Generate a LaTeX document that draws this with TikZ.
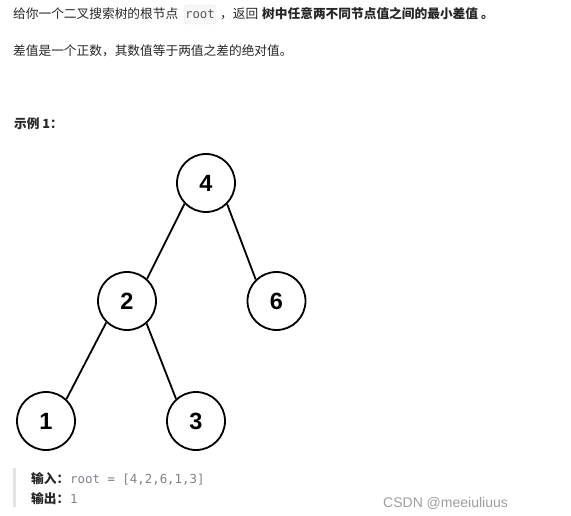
\documentclass[tikz,border=0pt]{standalone}
\usepackage{fontspec}
\setmainfont{Noto Sans CJK SC}
\newfontfamily\arialf{Liberation Sans}
\setmonofont{DejaVu Sans Mono}
\definecolor{textc}{HTML}{262626}
\definecolor{codec}{HTML}{7B8190}
\definecolor{codebg}{HTML}{F7F7F7}
\definecolor{codebd}{HTML}{E6E6E6}
\definecolor{barc}{HTML}{E3E3E3}
\definecolor{wmc}{HTML}{9E9E9E}
\begin{document}
\begin{tikzpicture}[x=1pt,y=-1pt,
  tn/.style={circle,draw=black,line width=1.8pt,minimum size=58pt,inner sep=0pt,
    font=\arialf\fontsize{23.5}{24}\selectfont\bfseries},
  edge/.style={line width=1.8pt},
  txt/.style={anchor=base west,inner sep=0pt,text=textc,font=\fontsize{12.7}{15}\selectfont},
  btxt/.style={txt,font=\fontsize{12.7}{15}\selectfont\bfseries},
  code/.style={anchor=base west,inner sep=0pt,text=codec,font=\ttfamily\fontsize{12.4}{15}\selectfont}
]
\useasboundingbox (0,0) rectangle (571,516);
% first line
\node[txt] (l1a) at (13,19) {给你一个二叉搜索树的根节点};
\draw[draw=codebd,fill=codebg,rounded corners=3pt] (184,5) rectangle (216,24);
\node[code,anchor=base,text=black!65] (rootc) at (200,19) {root};
\node[txt] (l1b) at (220,19) {，返回};
\node[btxt] (l1c) at (262,19) {树中任意两不同节点值之间的最小差值};
\node[btxt] (l1d) at (481,19) {。};
% second line
\node[txt] (l2) at (13,56) {差值是一个正数，其数值等于两值之差的绝对值。};
% example title
\node[btxt] (ex) at (14,129) {示例 1：};
% tree
\node[tn] (n4) at (206,183) {4};
\node[tn] (n2) at (127,301) {2};
\node[tn] (n6) at (276.5,301) {6};
\node[tn] (n1) at (46,421) {1};
\node[tn] (n3) at (196,421) {3};
\draw[edge] (n4.224) -- (n2.48);
\draw[edge] (n4.-45) -- (n6.134);
\draw[edge] (n2.226) -- (n1.47);
\draw[edge] (n2.-49) -- (n3.132);
% bottom block
\fill[barc] (13,468) rectangle (15.5,507);
\node[btxt] (in) at (31,483) {输入：};
\node[code] (inv) at (70,483) {root = [4,2,6,1,3]};
\node[btxt] (out) at (31,503) {输出：};
\node[code] (outv) at (70,503) {1};
\node[anchor=base west,inner sep=0pt,text=wmc,font=\arialf\fontsize{14}{16}\selectfont] (wm) at (383,507) {CSDN @meeiuliuus};
\end{tikzpicture}
\end{document}
